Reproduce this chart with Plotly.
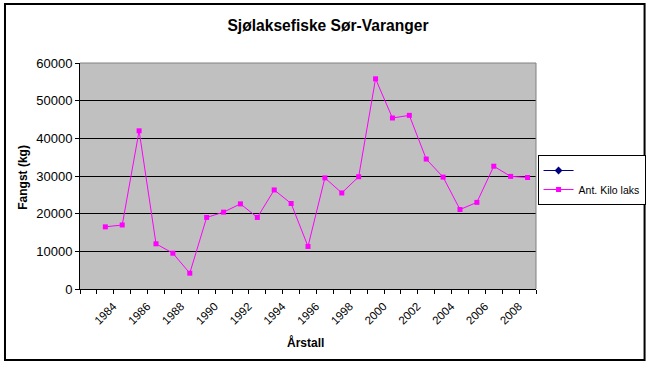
import plotly.graph_objects as go

# Data
years = list(range(1984, 2010))
kilo_laks = [16500, 17000, 42000, 12000, 9500, 4200, 19000, 20400, 22600, 19000,
             26300, 22700, 11300, 29500, 25500, 29800, 55800, 45400, 46100, 34500,
             29700, 21100, 23000, 32600, 29900, 29600]
blank_x = [None]
blank_y = [None]
tick_years = list(range(1984, 2009, 2))
tick_labels = [str(y) for y in tick_years]
y_ticks = [0, 10000, 20000, 30000, 40000, 50000, 60000]

W, H = 657, 365
L, R, T, B = 80, 542, 63, 289
pw, ph = R - L, B - T

def px_x(x):
    return (x - L) / pw

def px_y(y):
    return (B - y) / ph

font = "Liberation Sans, Arial, sans-serif"

fig = go.Figure()
fig.add_trace(go.Scatter(
    x=blank_x, y=blank_y, name=" ", mode="lines+markers",
    line=dict(color="#000080", width=1),
    marker=dict(symbol="diamond", size=6, color="#000080"),
    showlegend=True,
))
fig.add_trace(go.Scatter(
    x=years, y=kilo_laks, name="Ant. Kilo laks", mode="lines+markers",
    line=dict(color="#FF00FF", width=1),
    marker=dict(symbol="square", size=5, color="#FF00FF"),
))

fig.update_layout(
    width=W, height=H,
    margin=dict(l=L, r=W - R, t=T, b=H - B),
    paper_bgcolor="white",
    plot_bgcolor="#C0C0C0",
    font=dict(family=font, size=11, color="black"),
    title=dict(text="<b>Sjølaksefiske Sør-Varanger</b>", x=(328) / W, xanchor="center",
               y=1 - 26 / H, yanchor="middle", font=dict(size=15.6, color="black")),
    showlegend=True,
    legend=dict(x=px_x(653), y=px_y(155), xanchor="right", yanchor="top",
                bgcolor="white", bordercolor="black", borderwidth=1,
                font=dict(size=10.5), itemwidth=30, tracegroupgap=0),
    xaxis=dict(
        range=[1982.5, 2009.5], tickmode="array", tickvals=tick_years, ticktext=tick_labels,
        tickangle=-45, ticks="outside", ticklen=5, tickcolor="rgba(0,0,0,0)",
        ticklabelshift=8,
        showgrid=False, zeroline=False, showline=True, linecolor="black", linewidth=1,
        tickfont=dict(size=11.5),
        minor=dict(ticks="outside", tick0=1982.5, dtick=1, ticklen=4, tickcolor="black", showgrid=False),
    ),
    yaxis=dict(
        range=[0, 60000], tickvals=y_ticks, tickformat="d",
        ticks="outside", ticklen=4, tickcolor="black",
        showgrid=True, gridcolor="black", gridwidth=1, zeroline=False,
        showline=True, linecolor="black", linewidth=1,
        tickfont=dict(size=13),
    ),
    annotations=[
        dict(text="<b>Fangst (kg)</b>", x=px_x(22), y=px_y(177), xref="paper", yref="paper",
             xanchor="center", yanchor="middle",
             textangle=-90, showarrow=False, font=dict(size=12)),
        dict(text="<b>Årstall</b>", x=px_x(308), y=px_y(342), xref="paper", yref="paper",
             xanchor="center", yanchor="middle",
             showarrow=False, font=dict(size=12)),
    ],
    shapes=[
        dict(type="line", xref="paper", yref="paper", x0=0, x1=1, y0=1, y1=1,
             line=dict(color="#808080", width=1)),
        dict(type="line", xref="paper", yref="paper", x0=1, x1=1, y0=0, y1=1,
             line=dict(color="#808080", width=1)),
        dict(type="rect", xref="paper", yref="paper", x0=px_x(4), x1=px_x(652),
             y0=px_y(360), y1=px_y(4), line=dict(color="black", width=2)),
    ],
)

fig.write_html("out.html", config={"displayModeBar": False},
               post_script="document.body.style.margin='0';document.body.style.overflow='hidden';")
